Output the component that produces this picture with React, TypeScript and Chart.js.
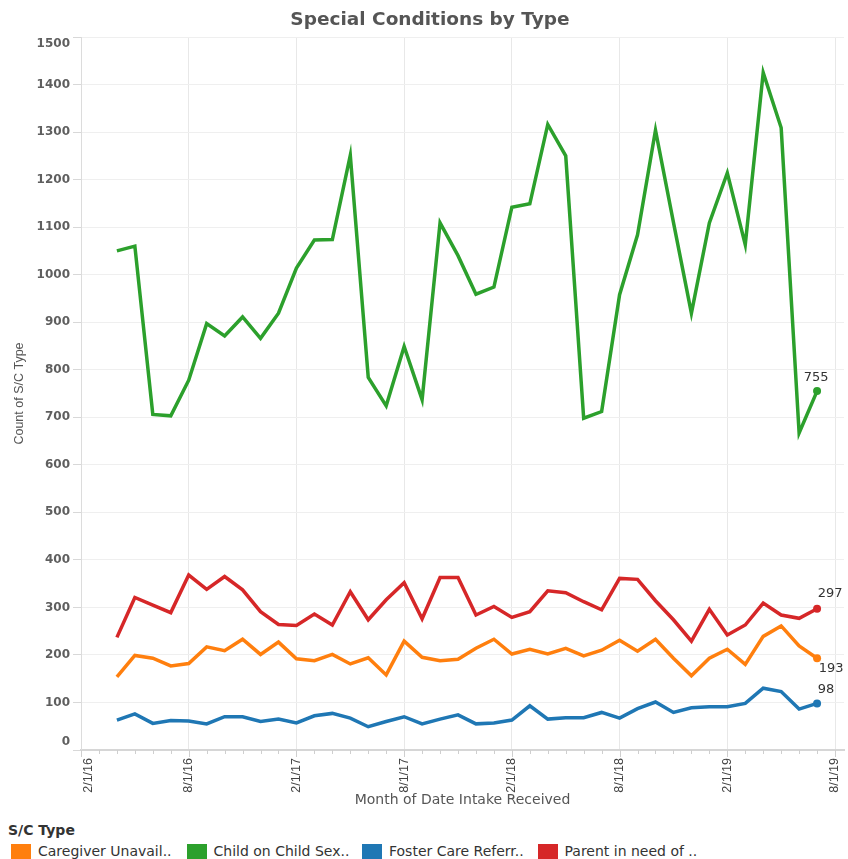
import React, { useEffect, useRef } from 'react';
import { Chart, registerables } from 'chart.js';

Chart.register(...registerables);

// Month of Date Intake Received (first of month)
const monthLabels = [
  '4/1/16', '5/1/16', '6/1/16', '7/1/16', '8/1/16', '9/1/16', '10/1/16', '11/1/16', '12/1/16',
  '1/1/17', '2/1/17', '3/1/17', '4/1/17', '5/1/17', '6/1/17', '7/1/17', '8/1/17', '9/1/17', '10/1/17', '11/1/17', '12/1/17',
  '1/1/18', '2/1/18', '3/1/18', '4/1/18', '5/1/18', '6/1/18', '7/1/18', '8/1/18', '9/1/18', '10/1/18', '11/1/18', '12/1/18',
  '1/1/19', '2/1/19', '3/1/19', '4/1/19', '5/1/19', '6/1/19', '7/1/19',
];

const axisTickLabels = ['2/1/16', '8/1/16', '2/1/17', '8/1/17', '2/1/18', '8/1/18', '2/1/19', '8/1/19'];

const yTickValues = [0, 100, 200, 300, 400, 500, 600, 700, 800, 900, 1000, 1100, 1200, 1300, 1400, 1500];

const seriesNames = ['Caregiver Unavail..', 'Child on Child Sex..', 'Foster Care Referr..', 'Parent in need of ..'];

const caregiverUnavail = [
  154, 199, 193, 177, 182, 217, 209, 233, 201, 227, 192, 188, 201, 181, 194, 158, 229, 195, 188, 191,
  214, 233, 202, 212, 202, 214, 198, 210, 231, 208, 233, 193, 156, 193, 212, 180, 239, 261, 219, 193,
];

const childOnChild = [
  1050, 1060, 706, 703, 778, 897, 871, 911, 866, 919, 1014, 1073, 1074, 1251, 784, 724, 849, 737, 1109, 1040,
  959, 974, 1142, 1149, 1316, 1250, 698, 712, 958, 1084, 1304, 1110, 919, 1109, 1214, 1063, 1425, 1309, 667, 755,
];

const fosterCareReferral = [
  63, 76, 56, 62, 61, 55, 70, 70, 60, 65, 57, 72, 77, 67, 49, 60, 70, 55, 65, 74,
  55, 57, 63, 93, 65, 68, 68, 79, 67, 87, 101, 79, 89, 91, 91, 98, 130, 123, 86, 98,
];

const parentInNeed = [
  237, 321, 305, 289, 368, 338, 365, 337, 291, 264, 262, 286, 263, 333, 274, 316, 352, 276, 363, 363,
  284, 302, 279, 291, 335, 331, 312, 295, 361, 359, 314, 274, 229, 296, 242, 263, 309, 284, 277, 297,
];

const colors = ['#ff7f0e', '#2ca02c', '#1f77b4', '#d62728'];

// month index counted from 2/1/16
const monthIndex = (label: string) => {
  const [m, , y] = label.split('/').map(Number);
  return (y - 16) * 12 + (m - 2);
};

const toPoints = (vals: number[]) => vals.map((v, i) => ({ x: monthIndex(monthLabels[i]), y: v }));

// end-label offsets per series (orange, green, blue, red)
const endLabelOffsets = [
  { dx: 14, dy: 10 },
  { dx: -1, dy: -13 },
  { dx: 9, dy: -14 },
  { dx: 13, dy: -15 },
];

const FONT = '"DejaVu Sans", "Liberation Sans", Arial, sans-serif';
const ARIAL = '"Liberation Sans", Arial, sans-serif';

export default function App() {
  const canvasRef = useRef<HTMLCanvasElement | null>(null);

  useEffect(() => {
    document.body.style.margin = '0';
    const canvas = canvasRef.current;
    if (!canvas) return;

    const allSeries = [caregiverUnavail, childOnChild, fosterCareReferral, parentInNeed];

    const endLabels = {
      id: 'endLabels',
      afterDatasetsDraw(chart: any) {
        const ctx = chart.ctx;
        ctx.save();
        ctx.font = `13px ${FONT}`;
        ctx.fillStyle = '#333';
        ctx.textAlign = 'center';
        ctx.textBaseline = 'middle';
        chart.data.datasets.forEach((ds: any, di: number) => {
          const meta = chart.getDatasetMeta(di);
          const last = meta.data[meta.data.length - 1];
          const val = ds.data[ds.data.length - 1].y;
          const off = endLabelOffsets[di];
          ctx.fillText(String(val), last.x + off.dx, last.y + off.dy);
        });
        ctx.restore();
      },
    };

    // axis labels drawn Tableau-style (end labels kept inside the axis range)
    const axisLabels = {
      id: 'axisLabels',
      afterDraw(chart: any) {
        const ctx = chart.ctx;
        const ys = chart.scales.y;
        const xs = chart.scales.x;
        ctx.save();
        // y labels
        ctx.font = `bold 12px ${FONT}`;
        ctx.fillStyle = '#5f5f5f';
        ctx.textAlign = 'right';
        ctx.textBaseline = 'middle';
        const lastIdx = yTickValues.length - 1;
        yTickValues.forEach((v, i) => {
          let py = ys.getPixelForValue(v);
          if (i === 0) py -= 8;
          if (i === lastIdx) py += 6.5;
          ctx.fillText(String(v), ys.right - 11, py);
        });
        // x tick marks (monthly minor, 6-monthly major)
        const axisY = xs.top;
        ctx.strokeStyle = '#cfcfcf';
        ctx.lineWidth = 1;
        for (let m = 0; m <= 42; m++) {
          const px = Math.round(xs.getPixelForValue(m)) + 0.5;
          const len = m % 6 === 0 ? 7 : 4;
          ctx.beginPath();
          ctx.moveTo(px, axisY);
          ctx.lineTo(px, axisY + len);
          ctx.stroke();
        }
        // x labels rotated
        ctx.font = `12.5px ${ARIAL}`;
        ctx.fillStyle = '#444';
        ctx.textAlign = 'right';
        ctx.textBaseline = 'middle';
        axisTickLabels.forEach((lab, k) => {
          let px = xs.getPixelForValue(k * 6);
          if (k === 0) px += 8;
          ctx.save();
          ctx.translate(px, axisY + 8);
          ctx.rotate(-Math.PI / 2);
          ctx.fillText(lab, 0, 0);
          ctx.restore();
        });
        ctx.restore();
      },
    };

    const titlePlugin = {
      id: 'customTitle',
      afterDraw(chart: any) {
        const ctx = chart.ctx;
        ctx.save();
        ctx.font = `bold 18.5px ${FONT}`;
        ctx.fillStyle = '#555';
        ctx.textAlign = 'center';
        ctx.textBaseline = 'middle';
        ctx.fillText('Special Conditions by Type', 430, 20);
        ctx.restore();
      },
    };

    const chart = new Chart(canvas, {
      type: 'line',
      data: {
        datasets: allSeries.map((s, i) => ({
          label: seriesNames[i],
          data: toPoints(s),
          borderColor: colors[i],
          backgroundColor: colors[i],
          borderWidth: 3.5,
          pointRadius: (c: any) => (c.dataIndex === s.length - 1 ? 4 : 0),
          pointHoverRadius: 0,
          pointBorderWidth: 0,
          tension: 0,
          fill: false,
        })),
      },
      options: {
        responsive: false,
        animation: false,
        devicePixelRatio: 1,
        layout: { padding: { top: 37, right: 3, left: 0, bottom: 0 } },
        plugins: {
          legend: { display: false },
          title: { display: false },
          tooltip: { enabled: false },
        },
        scales: {
          x: {
            type: 'linear',
            min: 0,
            max: 42.5,
            afterBuildTicks: (scale: any) => {
              scale.ticks = Array.from({ length: 43 }, (_, i) => ({ value: i }));
            },
            afterFit: (scale: any) => {
              scale.height = 65;
              scale.paddingLeft = 0;
              scale.paddingRight = 0;
            },
            ticks: {
              autoSkip: false,
              maxRotation: 0,
              minRotation: 0,
              color: 'rgba(0,0,0,0)',
              callback: () => '',
            },
            grid: {
              color: (c: any) => (c.tick && c.tick.value % 6 === 0 ? '#e8e8e8' : 'rgba(0,0,0,0)'),
              drawTicks: false,
              lineWidth: 1,
            },
            border: { display: true, color: '#d6d6d6', width: 2 },
            title: {
              display: true,
              text: 'Month of Date Intake Received',
              color: '#555',
              font: { family: FONT, size: 14 },
              padding: { top: 0, bottom: 6 },
            },
          },
          y: {
            min: 0,
            max: 1500,
            afterFit: (scale: any) => {
              scale.width = 81;
              scale.paddingTop = 0;
              scale.paddingBottom = 0;
            },
            ticks: {
              stepSize: 100,
              padding: 2,
              color: 'rgba(0,0,0,0)',
              font: { family: FONT, size: 12, weight: 'bold' },
              callback: (v: any) => String(v),
            },
            grid: {
              color: '#efefef',
              tickColor: '#d8d8d8',
              tickLength: 8,
              lineWidth: 1,
            },
            border: { display: true, color: '#dcdcdc', width: 1 },
            title: {
              display: true,
              text: 'Count of S/C Type',
              color: '#555',
              font: { family: ARIAL, size: 12.5 },
              padding: { top: 12, bottom: 0 },
            },
          },
        },
      } as any,
      plugins: [endLabels, axisLabels, titlePlugin],
    });

    return () => {
      chart.destroy();
    };
  }, []);

  const pitch = 175.5;

  return (
    <div style={{ position: 'relative', width: 848, height: 859, background: '#fff', overflow: 'hidden' }}>
      <canvas ref={canvasRef} width={848} height={815} style={{ display: 'block', width: 848, height: 815 }} />
      <div
        style={{
          position: 'absolute',
          left: 8,
          top: 822,
          font: `bold 14px ${FONT}`,
          color: '#333',
          lineHeight: '16px',
        }}
      >
        S/C Type
      </div>
      {seriesNames.map((name, i) => (
        <React.Fragment key={name}>
          <div
            style={{
              position: 'absolute',
              left: 11 + i * pitch,
              top: 844,
              width: 20,
              height: 20,
              background: colors[i],
            }}
          />
          <div
            style={{
              position: 'absolute',
              left: 38 + i * pitch,
              top: 843,
              font: `14px ${FONT}`,
              color: '#333',
              lineHeight: '16px',
              whiteSpace: 'nowrap',
            }}
          >
            {name}
          </div>
        </React.Fragment>
      ))}
    </div>
  );
}
